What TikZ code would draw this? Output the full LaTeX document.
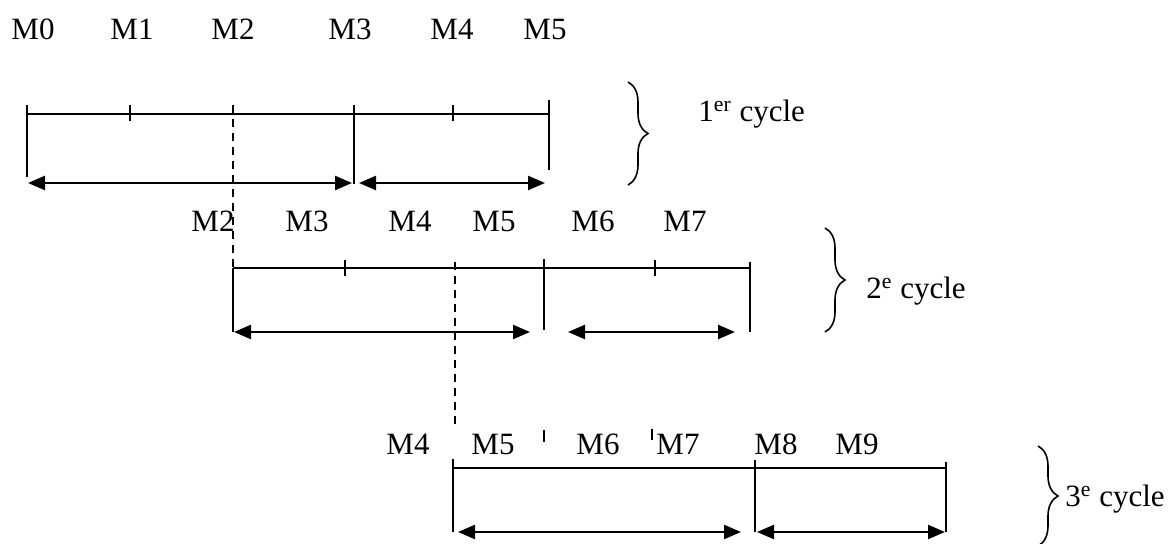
\documentclass[tikz,border=0pt]{standalone}
\usepackage{fontspec}
\setmainfont{Liberation Serif}
\usetikzlibrary{arrows.meta,decorations.pathreplacing}
\begin{document}
\begin{tikzpicture}[x=0.5pt,y=-0.5pt,
  axis/.style={line width=0.95pt},
  arr/.style={line width=1.2pt,{Triangle[length=8.5pt,width=7pt]}-{Triangle[length=8.5pt,width=7pt]}},
  dline/.style={line width=0.9pt,dash pattern=on 4pt off 3pt},
  lab/.style={font=\fontsize{15.5}{18}\selectfont, inner sep=0pt, anchor=base},
  brc/.style={decorate,decoration={brace,amplitude=10pt},line width=0.8pt}]
\useasboundingbox (0,0) rectangle (1169,544);

% ---------- cycle 1 ----------
\node[lab] (c1m0) at (33,40) {M0};
\node[lab] (c1m1) at (132,40) {M1};
\node[lab] (c1m2) at (233,40) {M2};
\node[lab] (c1m3) at (350,40) {M3};
\node[lab] (c1m4) at (452,40) {M4};
\node[lab] (c1m5) at (545,40) {M5};

\coordinate (a0) at (27,114);   \coordinate (a0t) at (27,105);  \coordinate (a0b) at (27,177);
\coordinate (a1t) at (130,105); \coordinate (a1b) at (130,121);
\coordinate (a3t) at (354,105); \coordinate (a3b) at (354,184);
\coordinate (a4t) at (453,105); \coordinate (a4b) at (453,121);
\coordinate (a5) at (549,114);  \coordinate (a5t) at (549,100); \coordinate (a5b) at (549,170);
\draw[axis] (a0) -- (a5);
\draw[axis] (a0t) -- (a0b);
\draw[axis] (a1t) -- (a1b);
\draw[axis] (a3t) -- (a3b);
\draw[axis] (a4t) -- (a4b);
\draw[axis] (a5t) -- (a5b);
\coordinate (r1a) at (28,183);  \coordinate (r1b) at (352,183);
\coordinate (r1c) at (359,183); \coordinate (r1d) at (545,183);
\draw[arr] (r1a) -- (r1b);
\draw[arr] (r1c) -- (r1d);

\coordinate (d1t) at (233,105); \coordinate (d1b) at (233,268);
\draw[dline] (d1t) -- (d1b);

\coordinate (bA1) at (628,82); \coordinate (bA2) at (628,185);
\draw[brc] (bA1) -- (bA2);
\node[lab,anchor=base west] (cyc1) at (698,122) {1\textsuperscript{er} cycle};

% ---------- cycle 2 ----------
\node[lab] (c2m2) at (213,232) {M2};
\node[lab] (c2m3) at (307,232) {M3};
\node[lab] (c2m4) at (410,232) {M4};
\node[lab] (c2m5) at (494,232) {M5};
\node[lab] (c2m6) at (593,232) {M6};
\node[lab] (c2m7) at (685,232) {M7};

\coordinate (b0) at (233,268);  \coordinate (b0b) at (233,332);
\coordinate (b1t) at (345,260); \coordinate (b1b) at (345,276);
\coordinate (b3t) at (544,259); \coordinate (b3b) at (544,330);
\coordinate (b4t) at (655,260); \coordinate (b4b) at (655,276);
\coordinate (b5) at (750,268);  \coordinate (b5t) at (750,262); \coordinate (b5b) at (750,332);
\draw[axis] (b0) -- (b5);
\draw[axis] (b0) -- (b0b);
\draw[axis] (b1t) -- (b1b);
\draw[axis] (b3t) -- (b3b);
\draw[axis] (b4t) -- (b4b);
\draw[axis] (b5t) -- (b5b);
\coordinate (r2a) at (234,332); \coordinate (r2b) at (530,332);
\coordinate (r2c) at (568,332); \coordinate (r2d) at (735,332);
\draw[arr] (r2a) -- (r2b);
\draw[arr] (r2c) -- (r2d);

\coordinate (d2t) at (455,262); \coordinate (d2b) at (455,424);
\draw[dline] (d2t) -- (d2b);

\coordinate (bB1) at (825,228); \coordinate (bB2) at (825,332);
\draw[brc] (bB1) -- (bB2);
\node[lab,anchor=base west] (cyc2) at (866,299) {2\textsuperscript{e} cycle};

% ---------- cycle 3 ----------
\node[lab] (c3m4) at (408,455) {M4};
\node[lab] (c3m5) at (493,455) {M5};
\node[lab] (c3m6) at (598,455) {M6};
\node[lab] (c3m7) at (678,455) {M7};
\node[lab] (c3m8) at (776,455) {M8};
\node[lab] (c3m9) at (857,455) {M9};
\coordinate (t1t) at (544,430); \coordinate (t1b) at (544,442);
\coordinate (t2t) at (652,429); \coordinate (t2b) at (652,440);
\draw[line width=0.7pt] (t1t) -- (t1b);
\draw[line width=0.7pt] (t2t) -- (t2b);

\coordinate (c0) at (453,468);  \coordinate (c0t) at (453,459); \coordinate (c0b) at (453,532);
\coordinate (c3t) at (755,460); \coordinate (c3b) at (755,532);
\coordinate (c5) at (946,468);  \coordinate (c5t) at (946,462); \coordinate (c5b) at (946,532);
\draw[axis] (c0) -- (c5);
\draw[axis] (c0t) -- (c0b);
\draw[axis] (c3t) -- (c3b);
\draw[axis] (c5t) -- (c5b);
\coordinate (r3a) at (458,532); \coordinate (r3b) at (741,532);
\coordinate (r3c) at (757,532); \coordinate (r3d) at (945,532);
\draw[arr] (r3a) -- (r3b);
\draw[arr] (r3c) -- (r3d);

\coordinate (bC1) at (1038,446); \coordinate (bC2) at (1038,546);
\draw[brc] (bC1) -- (bC2);
\node[lab,anchor=base west] (cyc3) at (1065,507) {3\textsuperscript{e} cycle};
\end{tikzpicture}
\end{document}
